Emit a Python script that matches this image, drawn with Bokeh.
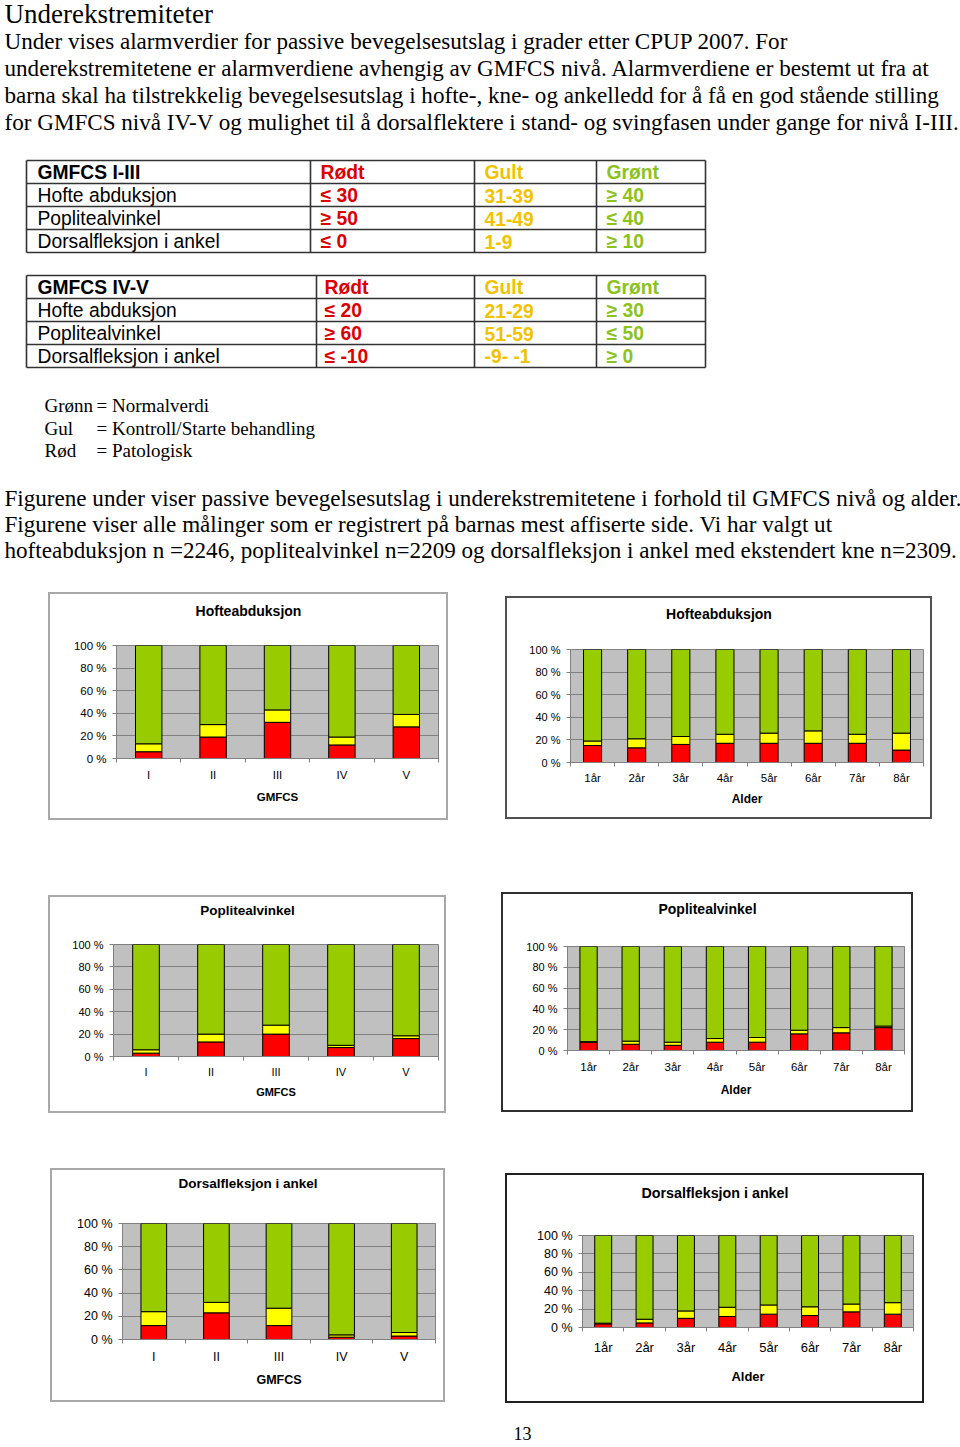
from bokeh.plotting import figure
from bokeh.models import (Range1d, ColumnDataSource, LinearAxis, FixedTicker, Spacer)
from bokeh.layouts import column, row
from bokeh.core.properties import value
from bokeh.embed import file_html
from bokeh.resources import INLINE

# ------------------------------------------------------------------ data
heading_text = "Underekstremiteter"
intro_lines = [
    "Under vises alarmverdier for passive bevegelsesutslag i grader etter CPUP 2007. For",
    "underekstremitetene er alarmverdiene avhengig av GMFCS nivå. Alarmverdiene er bestemt ut fra at",
    "barna skal ha tilstrekkelig bevegelsesutslag i hofte-, kne- og ankelledd for å få en god stående stilling",
    "for GMFCS nivå IV-V og mulighet til å dorsalflektere i stand- og svingfasen under gange for nivå I-III.",
]
table1_header = ["GMFCS I-III", "Rødt", "Gult", "Grønt"]
table2_header = ["GMFCS IV-V", "Rødt", "Gult", "Grønt"]
measures = ["Hofte abduksjon", "Poplitealvinkel", "Dorsalfleksjon i ankel"]
limits1_red = ["≤ 30", "≥ 50", "≤ 0"]
limits1_yellow = ["31-39", "41-49", "1-9"]
limits1_green = ["≥ 40", "≤ 40", "≥ 10"]
limits2_red = ["≤ 20", "≥ 60", "≤ -10"]
limits2_yellow = ["21-29", "51-59", "-9- -1"]
limits2_green = ["≥ 30", "≤ 50", "≥ 0"]
legend_keys = ["Grønn", "Gul", "Rød"]
legend_texts = ["= Normalverdi", "= Kontroll/Starte behandling", "= Patologisk"]
outro_lines = [
    "Figurene under viser passive bevegelsesutslag i underekstremitetene i forhold til GMFCS nivå og alder.",
    "Figurene viser alle målinger som er registrert på barnas mest affiserte side. Vi har valgt ut",
    "hofteabduksjon n =2246, poplitealvinkel n=2209 og dorsalfleksjon i ankel med ekstendert kne n=2309.",
]
page_number = "13"

gmfcs_levels = ["I", "II", "III", "IV", "V"]
age_groups = ["1år", "2år", "3år", "4år", "5år", "6år", "7år", "8år"]
y_ticks = [0, 20, 40, 60, 80, 100]
y_tick_labels = ["0 %", "20 %", "40 %", "60 %", "80 %", "100 %"]

# Hofteabduksjon (percent red / yellow / green)
hip_gmfcs_red = [6, 19, 32, 12, 28]
hip_gmfcs_yellow = [7, 11, 11, 7, 11]
hip_gmfcs_green = [87, 70, 57, 81, 61]
hip_age_red = [15, 13, 16, 17, 17, 17, 17, 11]
hip_age_yellow = [4, 8, 7, 8, 9, 11, 8, 15]
hip_age_green = [81, 79, 77, 75, 74, 72, 75, 74]

# Poplitealvinkel
pop_gmfcs_red = [3, 13, 20, 8, 16]
pop_gmfcs_yellow = [3, 7, 8, 2, 2.5]
pop_gmfcs_green = [94, 80, 72, 90, 81.5]
pop_age_red = [8, 6, 5, 8, 8, 16, 17, 22]
pop_age_yellow = [0.5, 3, 3, 3.5, 4.5, 3.5, 5, 1.5]
pop_age_green = [91.5, 91, 92, 88.5, 87.5, 80.5, 78, 76.5]

# Dorsalfleksjon i ankel
dor_gmfcs_red = [12, 23, 12, 2, 3]
dor_gmfcs_yellow = [12, 9, 15, 2, 3]
dor_gmfcs_green = [76, 68, 73, 96, 94]
dor_age_red = [4, 5, 10, 12, 14.5, 13, 17, 14.5]
dor_age_yellow = [0.7, 4, 8, 10, 10, 9.5, 8.5, 12.5]
dor_age_green = [95.3, 91, 82, 78, 75.5, 77.5, 74.5, 73]

# ------------------------------------------------------------------ styles
SERIF = "Liberation Serif"
SANS = "Liberation Sans"
RED_T, YEL_T, GRN_T = "#dc0000", "#f2c200", "#8cc21c"
BAR_COLORS = ["#ff0000", "#ffff00", "#99cc00"]


def blank_fig(w, h, x0=None, x1=None):
    xr = Range1d(0 if x0 is None else x0, w if x1 is None else x1)
    f = figure(width=w, height=h, x_range=xr, y_range=Range1d(h, 0),
               x_axis_type=None, y_axis_type=None, output_backend="svg",
               toolbar_location=None, min_border=0, outline_line_color=None,
               border_fill_alpha=0.0, background_fill_alpha=0.0)
    f.xgrid.visible = False
    f.ygrid.visible = False
    return f


def txt(fig, x, y, s, size, font=SERIF, bold=False, color="black", align="left"):
    fig.text(x=[x], y=[y], text=[s], text_font=value(font),
             text_font_size=value(f"{size}px"),
             text_font_style="bold" if bold else "normal",
             text_baseline="middle", text_align=align, text_color=color)


# ------------------------------------------------------------------ header
hdr = blank_fig(960, 592)

txt(hdr, 4, 13, heading_text, 27)
for i, line in enumerate(intro_lines):
    txt(hdr, 4, 40 + 27 * i, line, 23.1)


def draw_table(top, vlines, text_x, header, red, yellow, green):
    rh = 23
    xs, ys = [], []
    for k in range(5):
        xs.append([vlines[0], vlines[-1]])
        ys.append([top + rh * k, top + rh * k])
    for vx in vlines:
        xs.append([vx, vx])
        ys.append([top, top + 4 * rh])
    hdr.multi_line(xs=xs, ys=ys, line_color="#333333", line_width=1.6)
    cy = top + rh / 2 + 0.5
    txt(hdr, text_x[0], cy, header[0], 19.3, SANS, True)
    txt(hdr, text_x[1], cy, header[1], 19.3, SANS, True, RED_T)
    txt(hdr, text_x[2], cy, header[2], 19.3, SANS, True, YEL_T)
    txt(hdr, text_x[3], cy, header[3], 19.3, SANS, True, GRN_T)
    for i in range(3):
        y = cy + rh * (i + 1)
        txt(hdr, text_x[0], y, measures[i], 19.3, SANS)
        txt(hdr, text_x[1], y, red[i], 19.3, SANS, True, RED_T)
        txt(hdr, text_x[2], y, yellow[i], 19.3, SANS, True, YEL_T)
        txt(hdr, text_x[3], y, green[i], 19.3, SANS, True, GRN_T)


draw_table(160, [26, 310, 474, 596, 705], [37, 320, 484, 606], table1_header,
           limits1_red, limits1_yellow, limits1_green)
draw_table(275, [26, 316, 474, 596, 705], [37, 324, 484, 606], table2_header,
           limits2_red, limits2_yellow, limits2_green)

for i in range(3):
    txt(hdr, 44, 405 + 22.5 * i, legend_keys[i], 19)
    txt(hdr, 96, 405 + 22.5 * i, legend_texts[i], 19)

for i, line in enumerate(outro_lines):
    txt(hdr, 4, 497 + 26 * i, line, 23.1)


# ------------------------------------------------------------------ charts
def make_chart(title, cats, red, yellow, green, axis_title, s):
    w, h = s["w"], s["h"]
    fl, ft, fr, fb = s["frame"]
    th = s["title_y"] + 12
    # title strip (its frame is aligned with the plot frame by the column layout)
    tf = blank_fig(w, th, fl, w - fr)
    txt(tf, w / 2, s["title_y"], title, s["title_fs"], SANS, True, align="center")

    n = len(cats)
    idx = list(range(n))  # category slot index
    p = figure(width=w, height=h - th, x_range=Range1d(-0.5, n - 0.5),
               y_range=Range1d(0, 100), x_axis_type=None,
               output_backend="svg", toolbar_location=None,
               min_border_left=fl, min_border_right=fr,
               min_border_top=ft - th, min_border_bottom=fb,
               background_fill_color="#c0c0c0", border_fill_alpha=0.0,
               outline_line_color="#808080", outline_line_width=1)

    # y axis
    ticker = FixedTicker(ticks=y_ticks)
    ya = p.yaxis[0]
    ya.ticker = ticker
    ya.major_label_overrides = {t: l for t, l in zip(y_ticks, y_tick_labels)}
    ya.minor_tick_line_color = None
    ya.major_tick_in = 0
    ya.major_tick_out = 4
    ya.axis_line_color = "#808080"
    ya.major_tick_line_color = "#808080"
    ya.major_label_standoff = 6
    ya.major_label_text_font = SANS
    ya.major_label_text_font_size = f"{s['tick_fs']}px"
    ya.major_label_text_color = "black"
    p.ygrid.ticker = ticker
    p.ygrid.grid_line_color = "#808080"
    p.ygrid.grid_line_width = 1

    # category axis: labels at slot centres, Excel-style ticks between slots
    xfs = s["x_fs"]
    afs = s["axis_fs"]
    lab_std = max(0, int(round(s["xlab_dy"] - 4 - 0.6 * xfs)))
    ax_std = max(0, int(round(s["axis_dy"] - s["xlab_dy"] - 0.66 * (xfs + afs))))
    cax = LinearAxis(ticker=FixedTicker(ticks=idx,
                                        minor_ticks=[i - 0.5 for i in range(n + 1)]),
                     major_label_overrides={i: c for i, c in zip(idx, cats)},
                     major_tick_line_color=None, major_tick_out=4, major_tick_in=0,
                     minor_tick_line_color="#808080", minor_tick_out=4, minor_tick_in=0,
                     axis_line_color="#808080",
                     major_label_standoff=lab_std,
                     major_label_text_font=SANS,
                     major_label_text_font_size=f"{xfs}px",
                     major_label_text_color="black",
                     axis_label=axis_title, axis_label_standoff=ax_std,
                     axis_label_text_font=SANS,
                     axis_label_text_font_size=f"{afs}px",
                     axis_label_text_font_style="bold",
                     axis_label_text_color="black")
    p.add_layout(cax, "below")

    src = ColumnDataSource(dict(x=idx, cat=cats, red=red, yellow=yellow, green=green))
    p.vbar_stack(["red", "yellow", "green"], x="x", width=0.41, source=src,
                 fill_color=BAR_COLORS, line_color="black", line_width=1)

    box = column(tf, p, spacing=0)
    box.styles = {"box-shadow": f"inset 0 0 0 {s['bw']}px {s['bc']}",
                  "background-color": "white"}
    return box


spec1 = dict(w=400, h=228, frame=(68, 53, 10, 62), title_y=18,
             title_fs=14, tick_fs=11.5, x_fs=11.5, axis_fs=11.5, xlab_dy=17, axis_dy=39,
             bw=2, bc="#a8a8a8")
spec2 = dict(w=427, h=223, frame=(65, 53, 9, 57), title_y=17,
             title_fs=14, tick_fs=11, x_fs=11.5, axis_fs=12, xlab_dy=16, axis_dy=37,
             bw=2, bc="#505050")
spec3 = dict(w=398, h=218, frame=(65, 49, 8, 57), title_y=15,
             title_fs=13.5, tick_fs=11, x_fs=11, axis_fs=11, xlab_dy=16, axis_dy=36,
             bw=2, bc="#a8a8a8")
spec4 = dict(w=412, h=220, frame=(66, 54, 9, 62), title_y=16,
             title_fs=14, tick_fs=11, x_fs=11.5, axis_fs=12, xlab_dy=17, axis_dy=40,
             bw=2, bc="#303030")
spec5 = dict(w=395, h=234, frame=(72, 55, 10, 63), title_y=15,
             title_fs=13.5, tick_fs=12.5, x_fs=12.5, axis_fs=12.5, xlab_dy=18, axis_dy=40,
             bw=2, bc="#a8a8a8")
spec6 = dict(w=419, h=230, frame=(77, 62, 11, 76), title_y=19,
             title_fs=14.3, tick_fs=12.5, x_fs=13, axis_fs=13, xlab_dy=20, axis_dy=48,
             bw=2, bc="#202020")

c1 = make_chart("Hofteabduksjon", gmfcs_levels, hip_gmfcs_red, hip_gmfcs_yellow,
                hip_gmfcs_green, "GMFCS", spec1)
c2 = make_chart("Hofteabduksjon", age_groups, hip_age_red, hip_age_yellow,
                hip_age_green, "Alder", spec2)
c3 = make_chart("Poplitealvinkel", gmfcs_levels, pop_gmfcs_red, pop_gmfcs_yellow,
                pop_gmfcs_green, "GMFCS", spec3)
c4 = make_chart("Poplitealvinkel", age_groups, pop_age_red, pop_age_yellow,
                pop_age_green, "Alder", spec4)
c5 = make_chart("Dorsalfleksjon i ankel", gmfcs_levels, dor_gmfcs_red, dor_gmfcs_yellow,
                dor_gmfcs_green, "GMFCS", spec5)
c6 = make_chart("Dorsalfleksjon i ankel", age_groups, dor_age_red, dor_age_yellow,
                dor_age_green, "Alder", spec6)

# ------------------------------------------------------------------ footer
ftr = blank_fig(960, 42)
txt(ftr, 522, 30, page_number, 18, align="center")

# ------------------------------------------------------------------ layout
row1 = row(Spacer(width=48, height=228), c1, Spacer(width=57, height=228),
           column(Spacer(width=427, height=4), c2))
row2 = row(Spacer(width=48, height=221), column(Spacer(width=398, height=3), c3),
           Spacer(width=55, height=221), c4)
row3 = row(Spacer(width=50, height=235), c5, Spacer(width=60, height=235),
           column(Spacer(width=419, height=5), c6))

page = column(hdr, row1, Spacer(width=960, height=72), row2,
              Spacer(width=960, height=55), row3, ftr)

open("out.html", "w").write(file_html(page, INLINE))
